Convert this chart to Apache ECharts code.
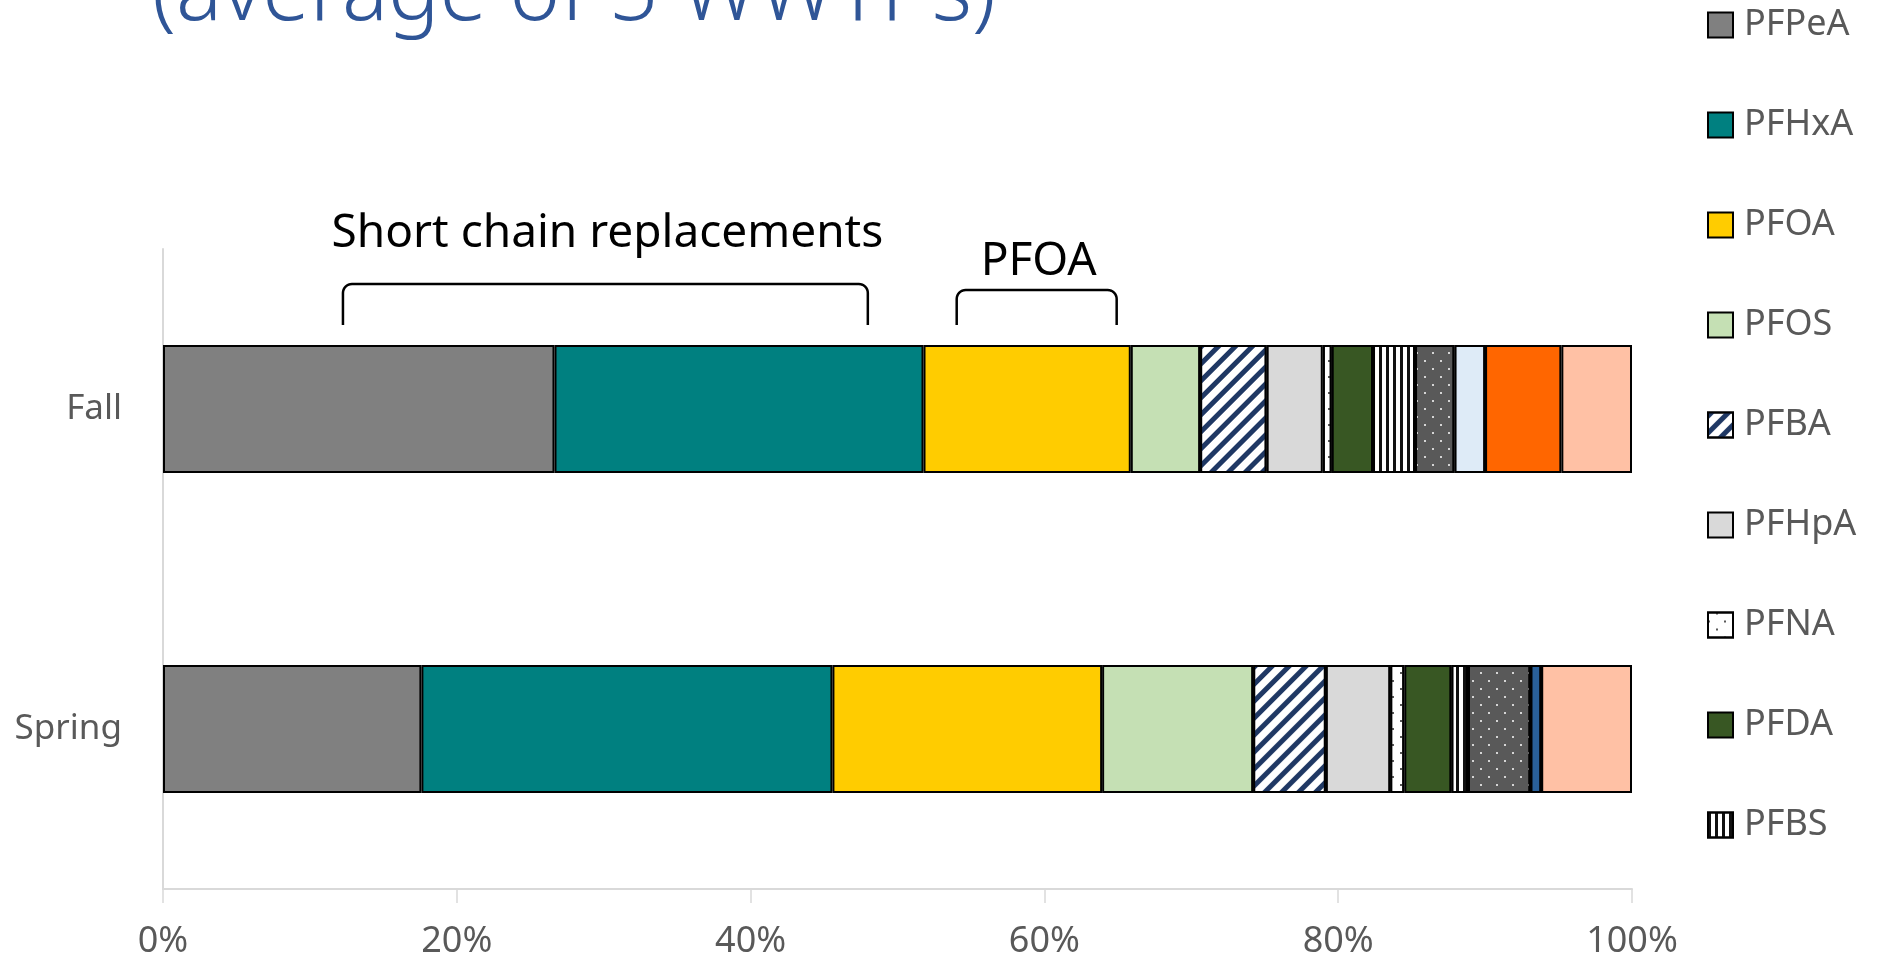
<!DOCTYPE html>
<html>
<head>
<meta charset="utf-8">
<script src="https://cdn.jsdelivr.net/npm/echarts@6/dist/echarts.min.js"></script>
<style>
  html, body { margin: 0; padding: 0; background: #fff; }
  #chart { width: 1879px; height: 962px; }
</style>
</head>
<body>
<div id="chart"></div>
<script>
// categories (top to bottom)
const categories = ['Fall', 'Spring'];
// compounds in stacking order
const compounds = ['PFPeA', 'PFHxA', 'PFOA', 'PFOS', 'PFBA', 'PFHpA', 'PFNA', 'PFDA', 'PFBS',
  'PFHxS', 'PFPeS', 'PFHpS', '6:2 FTS', 'Other'];
// share of total (%)
const fallShare   = [26.65, 25.12, 14.11, 4.72, 4.53, 3.82, 0.61, 2.81, 2.86, 2.69, 2.08, 0, 5.19, 4.81];
const springShare = [17.59, 27.98, 18.36, 10.28, 4.95, 4.38, 0.96, 3.20, 1.13, 4.26, 0, 0.73, 0, 6.18];
const xTicks = [0, 20, 40, 60, 80, 100];
// legend only shows the first part, rest is cut off in the original
const legendShown = compounds.slice(0, 9);
// annotation brackets, in axis % units
const bracketLabels = ['Short chain replacements', 'PFOA'];
const bracketSpans = [[12.25, 47.98], [54.03, 64.92]];

const dots = function (c) {
  return { symbol: 'circle', symbolSize: 1, dashArrayX: [[2, 14], [0, 8, 2, 6]], dashArrayY: [2, 6], color: c };
};
const styles = {
  'PFPeA': { color: '#808080' },
  'PFHxA': { color: '#008080' },
  'PFOA': { color: '#FFCC00' },
  'PFOS': { color: '#C5E0B4' },
  'PFBA': { color: '#ffffff', decal: { symbol: 'rect', symbolSize: 1, dashArrayX: [1, 0], dashArrayY: [5, 7], rotation: -Math.PI / 4, color: '#1F3864' } },
  'PFHpA': { color: '#D9D9D9' },
  'PFNA': { color: '#ffffff', decal: dots('#222222') },
  'PFDA': { color: '#385723' },
  'PFBS': { color: '#ffffff', decal: { symbol: 'rect', symbolSize: 1, dashArrayX: [3, 4], dashArrayY: [1, 0], color: '#111111' } },
  'PFHxS': { color: '#595959', decal: dots('#ffffff') },
  'PFPeS': { color: '#DEEBF7' },
  'PFHpS': { color: '#2A6099' },
  '6:2 FTS': { color: '#FF6600' },
  'Other': { color: '#FFC1A5' }
};

let myChart = echarts.init(document.getElementById('chart'));

let series = compounds.map(function (name, i) {
  let st = styles[name];
  return {
    name: name,
    type: 'bar',
    stack: 'total',
    barWidth: '40%',
    animation: false,
    itemStyle: Object.assign({ borderColor: '#000', borderWidth: 2 }, st),
    data: [fallShare[i], springShare[i]]
  };
});

let option = {
  backgroundColor: '#fff',
  textStyle: { fontFamily: 'Noto Sans' },
  grid: { left: 163, right: 247, top: 249, bottom: 73, containLabel: false },
  legend: {
    data: legendShown,
    orient: 'vertical',
    left: 1707,
    top: 5,
    padding: 0,
    itemWidth: 25,
    itemHeight: 25,
    itemGap: 60,
    icon: 'rect',
    textStyle: { fontSize: 36, color: '#595959', lineHeight: 40, padding: [0, 0, 0, 6] }
  },
  xAxis: {
    type: 'value',
    min: 0,
    max: 100,
    interval: 20,
    axisLine: { show: true, lineStyle: { color: '#D9D9D9', width: 2 } },
    axisTick: { show: true, length: 14, lineStyle: { color: '#D9D9D9', width: 1.5 } },
    splitLine: { show: false },
    axisLabel: {
      fontSize: 36, color: '#595959', margin: 35,
      formatter: function (v) { return xTicks.indexOf(v) >= 0 ? v + '%' : ''; }
    }
  },
  yAxis: {
    type: 'category',
    inverse: true,
    data: categories,
    axisLine: { show: true, lineStyle: { color: '#D9D9D9', width: 2 } },
    axisTick: { show: false },
    axisLabel: { fontSize: 35, color: '#595959', margin: 41 }
  },
  series: series
};
myChart.setOption(option);

// annotations placed through the x axis scale
let graphics = [{
  type: 'text',
  x: 152,
  y: -5,
  style: { text: '(average of 5 WWTPs)', fontSize: 86, fontWeight: 300, fontFamily: 'Noto Sans', fill: '#2F5597', verticalAlign: 'middle' }
}];
let bracketTop = [284, 290];
let textMid = [234, 262];

// rounded bracket as a polyline
function bracketPoints(x1, x2, yt, yb, r) {
  let pts = [[x1, yb], [x1, yt + r]];
  for (let k = 1; k <= 8; k++) {
    let a = Math.PI - k * Math.PI / 16;
    pts.push([x1 + r + r * Math.cos(a), yt + r - r * Math.sin(a)]);
  }
  pts.push([x2 - r, yt]);
  for (let k = 1; k <= 8; k++) {
    let a = Math.PI / 2 - k * Math.PI / 16;
    pts.push([x2 - r + r * Math.cos(a), yt + r - r * Math.sin(a)]);
  }
  pts.push([x2, yb]);
  return pts;
}

bracketSpans.forEach(function (span, i) {
  let x1 = myChart.convertToPixel({ xAxisIndex: 0 }, span[0]);
  let x2 = myChart.convertToPixel({ xAxisIndex: 0 }, span[1]);
  graphics.push({
    type: 'polyline',
    shape: { points: bracketPoints(x1, x2, bracketTop[i], 325, 9) },
    style: { fill: null, stroke: '#000', lineWidth: 2.5 }
  });
  graphics.push({
    type: 'text',
    x: (x1 + x2) / 2 + 2,
    y: textMid[i],
    style: { text: bracketLabels[i], fontSize: 46, fontFamily: 'Noto Sans', fill: '#000', align: 'center', verticalAlign: 'middle' }
  });
});
myChart.setOption({ graphic: graphics });
</script>
</body>
</html>
